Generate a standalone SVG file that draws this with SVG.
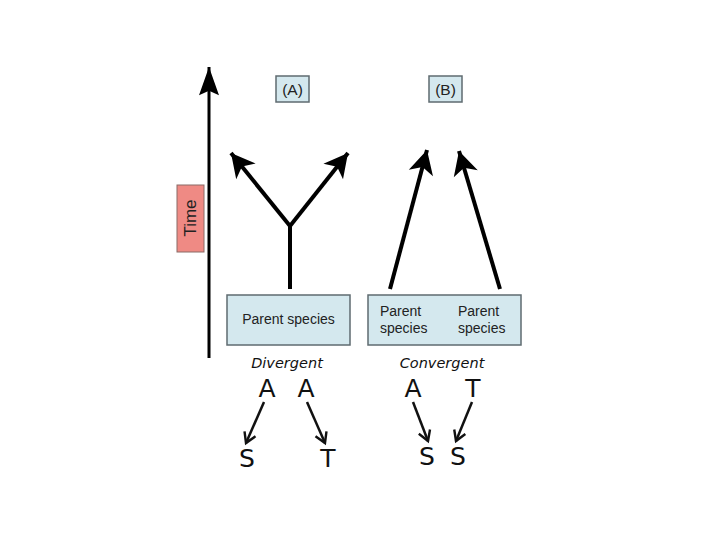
<svg xmlns="http://www.w3.org/2000/svg" width="720" height="540" viewBox="0 0 720 540">
<defs>
<marker id="big" markerUnits="userSpaceOnUse" markerWidth="30" markerHeight="30" refX="0" refY="0" viewBox="-20 -12 24 24" orient="auto" overflow="visible">
<path d="M0,0 L-19,-10 L-14,0 L-19,10 Z" fill="#000"/>
</marker>
<marker id="axis" markerUnits="userSpaceOnUse" markerWidth="40" markerHeight="40" refX="0" refY="0" viewBox="-40 -15 44 30" orient="auto" overflow="visible">
<path d="M0,0 L-31,-11 L-26,0 L-31,11 Z" fill="#000"/>
</marker>
<marker id="small" markerUnits="userSpaceOnUse" markerWidth="14" markerHeight="14" refX="0" refY="0" viewBox="-12 -7 14 14" orient="auto" overflow="visible">
<path d="M-10,-6 L0,0 L-10,6" fill="none" stroke="#111" stroke-width="2.4"/>
</marker>
</defs>
<style>
.box{fill:#d4e8ee;stroke:#5f6b70;stroke-width:1.5}
.lbl{font-family:"Liberation Sans",Arial,sans-serif;font-size:14px;fill:#222}
.hdr{font-family:"Liberation Sans",Arial,sans-serif;font-size:15.5px;fill:#222;text-anchor:middle}
.big{font-family:"DejaVu Sans",sans-serif;font-size:25px;fill:#111;text-anchor:middle}
.it{font-family:"DejaVu Sans",sans-serif;font-style:italic;font-size:14.5px;fill:#111;text-anchor:middle}
.thick{stroke:#000;stroke-width:4;fill:none}
.thin{stroke:#111;stroke-width:2.5;fill:none}
</style>
<rect width="720" height="540" fill="#fff"/>
<g id="time-axis">
<line x1="209" y1="358" x2="209" y2="67" stroke="#000" stroke-width="3" marker-end="url(#axis)"/>
</g>
<g id="time-label">
<rect x="177" y="185" width="27" height="67" fill="#ef8a84" stroke="#8a6a66" stroke-width="1"/>
<text transform="translate(196,218) rotate(-90)" class="lbl" text-anchor="middle" style="font-size:17px">Time</text>
</g>
<g id="label-A">
<rect x="276" y="76" width="33" height="26" class="box"/>
<text x="292.5" y="95" class="hdr">(A)</text>
</g>
<g id="label-B">
<rect x="429" y="76" width="33" height="26" class="box"/>
<text x="445.5" y="95" class="hdr">(B)</text>
</g>
<g id="parent-A">
<rect x="227" y="295" width="123" height="50" class="box"/>
<text x="288.5" y="324" class="lbl" text-anchor="middle">Parent species</text>
</g>
<g id="parent-B">
<rect x="368" y="295" width="153" height="50" class="box"/>
<text x="380" y="316" class="lbl">Parent</text>
<text x="380" y="333" class="lbl">species</text>
<text x="458" y="316" class="lbl">Parent</text>
<text x="458" y="333" class="lbl">species</text>
</g>
<g id="connectors">
<polyline points="290,289 290,224" class="thick"/>
<line x1="290" y1="226" x2="231" y2="153" class="thick" marker-end="url(#big)"/>
<line x1="290" y1="226" x2="348" y2="153" class="thick" marker-end="url(#big)"/>
<line x1="390" y1="289" x2="427" y2="150" class="thick" marker-end="url(#big)"/>
<line x1="500" y1="289" x2="459" y2="151" class="thick" marker-end="url(#big)"/>
<line x1="264" y1="402" x2="246" y2="443" class="thin" marker-end="url(#small)"/>
<line x1="307" y1="402" x2="325" y2="443" class="thin" marker-end="url(#small)"/>
<line x1="413" y1="402" x2="428" y2="441" class="thin" marker-end="url(#small)"/>
<line x1="472" y1="402" x2="456" y2="441" class="thin" marker-end="url(#small)"/>
</g>
<g id="divergent">
<text x="287" y="368" class="it">Divergent</text>
<text x="267" y="397" class="big">A</text>
<text x="306" y="397" class="big">A</text>
<text x="247" y="467" class="big">S</text>
<text x="328" y="467" class="big">T</text>
</g>
<g id="convergent">
<text x="442" y="368" class="it">Convergent</text>
<text x="413" y="397" class="big">A</text>
<text x="473" y="397" class="big">T</text>
<text x="427" y="465" class="big">S</text>
<text x="458" y="465" class="big">S</text>
</g>
</svg>
